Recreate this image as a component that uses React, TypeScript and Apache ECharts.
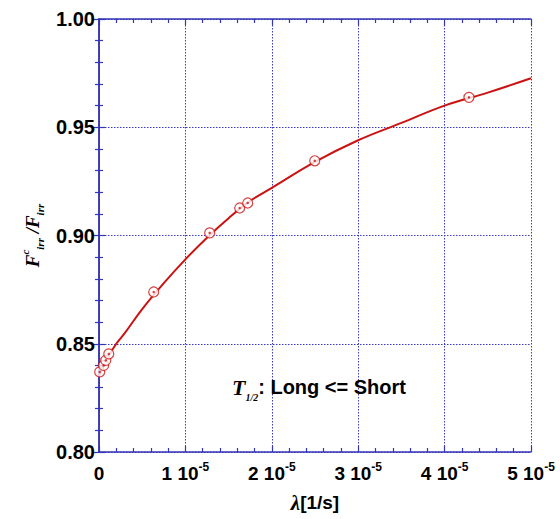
import React, { useEffect, useRef } from "react";
import * as echarts from "echarts";

// x values are in units of 1e-5 [1/s]
const curveLambda = [0, 0.1, 0.2, 0.3, 0.5, 0.75, 1.0, 1.25, 1.5, 1.75, 2.0, 2.5, 3.0, 3.5, 4.0, 4.5, 5.0];
const curveRatio = [0.835, 0.8435, 0.85, 0.855, 0.866, 0.878, 0.889, 0.899, 0.908, 0.916, 0.922, 0.934, 0.944, 0.952, 0.96, 0.966, 0.9726];

const pointLambda = [0.008, 0.054, 0.078, 0.113, 0.633, 1.281, 1.628, 1.721, 2.497, 4.282];
const pointRatio = [0.837, 0.84, 0.8423, 0.8453, 0.8739, 0.9012, 0.9127, 0.915, 0.9345, 0.9638];

const xTicks = [0, 1, 2, 3, 4, 5];
const yTicks = [0.8, 0.85, 0.9, 0.95, 1.0];

const AXIS = "#3535b5";
const GRID = "#3a3ac8";
const RED = "#cc1111";
const SANS = "Liberation Sans, Arial, sans-serif";
const SERIF = "Liberation Serif, Times New Roman, serif";

export default function App() {
  const ref = useRef<HTMLDivElement>(null);
  useEffect(() => {
    if (!ref.current) return;
    const chart = echarts.init(ref.current, null, { renderer: "svg" });
    const curve = curveLambda.map((x, i) => [x, curveRatio[i]]);
    const pts = pointLambda.map((x, i) => [x, pointRatio[i]]);
    const hiddenAxisCommon = {
      axisLabel: { show: false },
      splitLine: { show: false },
      axisLine: { show: true, lineStyle: { color: AXIS, width: 1.5 } },
      axisTick: { show: true, inside: true, length: 6, lineStyle: { color: AXIS, width: 1.2 } },
      minorTick: { show: true, splitNumber: 5, length: 4, lineStyle: { color: AXIS, width: 1.2 } },
    };
    chart.setOption({
      animation: false,
      backgroundColor: "#fff",
      grid: { left: 99, right: 29, top: 19, bottom: 67, containLabel: false },
      xAxis: [
        {
          type: "value",
          min: xTicks[0],
          max: xTicks[xTicks.length - 1],
          interval: 1,
          position: "bottom",
          axisLine: { show: true, lineStyle: { color: AXIS, width: 1.5 } },
          axisTick: { show: true, inside: true, length: 6, lineStyle: { color: AXIS, width: 1.2 } },
          minorTick: { show: true, splitNumber: 5, length: 4, lineStyle: { color: AXIS, width: 1.2 } },
          splitLine: { show: true, lineStyle: { color: GRID, type: [1.5, 1.5], width: 1 } },
          axisLabel: {
            margin: 9,
            formatter: (v: number) => (v === 0 ? "{n|0}" : `{n|${Math.round(v)} 10}{sup|-5}`),
            rich: {
              n: { fontFamily: SANS, fontWeight: "bold", fontSize: 19, color: "#000", lineHeight: 22, verticalAlign: "bottom" },
              sup: { fontFamily: SANS, fontWeight: "bold", fontSize: 12, color: "#000", lineHeight: 22, verticalAlign: "top" },
            },
          },
          name: "{l|λ}{b|[1/s]}",
          nameLocation: "middle",
          nameGap: 40,
          nameTextStyle: {
            rich: {
              l: { fontFamily: SERIF, fontStyle: "italic", fontWeight: "bold", fontSize: 21, color: "#000" },
              b: { fontFamily: SANS, fontWeight: "bold", fontSize: 19, color: "#000" },
            },
          },
        },
        {
          type: "value",
          min: xTicks[0],
          max: xTicks[xTicks.length - 1],
          interval: 1,
          position: "top",
          ...hiddenAxisCommon,
        },
      ],
      yAxis: [
        {
          type: "value",
          min: yTicks[0],
          max: yTicks[yTicks.length - 1],
          interval: 0.05,
          position: "left",
          axisLine: { show: true, lineStyle: { color: AXIS, width: 1.5 } },
          axisTick: { show: true, inside: true, length: 6, lineStyle: { color: AXIS, width: 1.2 } },
          minorTick: { show: true, splitNumber: 5, length: 4, lineStyle: { color: AXIS, width: 1.2 } },
          splitLine: { show: true, lineStyle: { color: GRID, type: [1.5, 1.5], width: 1 } },
          axisLabel: {
            margin: 4,
            formatter: (v: number) => v.toFixed(2),
            fontFamily: SANS,
            fontWeight: "bold",
            fontSize: 20,
            color: "#000",
          },
          name: "{f|F}{sup|c}{sub|irr}{f| /F}{sub|irr}",
          nameLocation: "middle",
          nameGap: 50,
          nameRotate: 90,
          nameTextStyle: {
            rich: {
              f: { fontFamily: SERIF, fontStyle: "italic", fontWeight: "bold", fontSize: 19, color: "#000", lineHeight: 26, verticalAlign: "middle" },
              sup: { fontFamily: SERIF, fontStyle: "italic", fontWeight: "bold", fontSize: 11, color: "#000", lineHeight: 26, verticalAlign: "top" },
              sub: { fontFamily: SERIF, fontStyle: "italic", fontWeight: "bold", fontSize: 11, color: "#000", lineHeight: 26, verticalAlign: "bottom" },
            },
          },
        },
        {
          type: "value",
          min: yTicks[0],
          max: yTicks[yTicks.length - 1],
          interval: 0.05,
          position: "right",
          ...hiddenAxisCommon,
        },
      ],
      series: [
        {
          type: "line",
          data: curve,
          smooth: 0.4,
          showSymbol: false,
          lineStyle: { color: RED, width: 2 },
          z: 3,
        },
        {
          type: "scatter",
          data: pts,
          symbol: "circle",
          symbolSize: 10,
          itemStyle: { color: "#fff", borderColor: RED, borderWidth: 1.2 },
          z: 4,
        },
        {
          type: "scatter",
          data: pts,
          symbol: "circle",
          symbolSize: 2.5,
          itemStyle: { color: RED },
          z: 5,
        },
      ],
      graphic: [
        {
          type: "text",
          left: 232,
          top: 376,
          style: {
            text: "{t|T}{s|1/2}{b|: Long <= Short}",
            rich: {
              t: { fontFamily: SERIF, fontStyle: "italic", fontWeight: "bold", fontSize: 22, color: "#000", lineHeight: 30, verticalAlign: "middle" },
              s: { fontFamily: SERIF, fontStyle: "italic", fontWeight: "bold", fontSize: 10, color: "#000", lineHeight: 30, verticalAlign: "bottom" },
              b: { fontFamily: SANS, fontWeight: "bold", fontSize: 20, color: "#000", lineHeight: 30, verticalAlign: "middle" },
            },
          },
          z: 10,
        },
      ],
    });
    return () => chart.dispose();
  }, []);
  return (
    <div
      ref={ref}
      style={{ position: "fixed", left: 0, top: 0, width: 560, height: 519, background: "#fff" }}
    />
  );
}
